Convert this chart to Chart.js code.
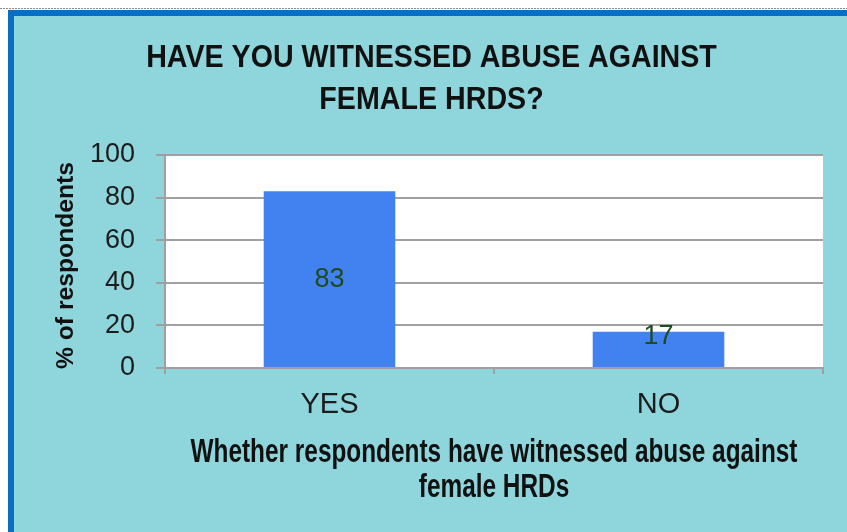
<!DOCTYPE html>
<html>
<head>
<meta charset="utf-8">
<script src="https://cdn.jsdelivr.net/npm/chart.js@4/dist/chart.umd.min.js"></script>
<style>
  html, body { margin: 0; padding: 0; background: #ffffff; }
  #wrap { width: 847px; height: 532px; }
</style>
</head>
<body>
<div id="wrap"><canvas id="c" width="847" height="532"></canvas></div>
<script>
// Survey answers and their share of respondents (%)
const categories = ['YES', 'NO'];
const percentRespondents = [83, 17];
const yTicks = { min: 0, max: 100, step: 20 };
const chartTitle = ['HAVE YOU WITNESSED ABUSE AGAINST', 'FEMALE HRDS?'];
const xAxisTitle = ['Whether respondents have witnessed abuse against', 'female HRDs'];
const yAxisTitle = '% of respondents';

const SANS = "'Liberation Sans', Arial, sans-serif";
const GRID = '#a0a0a0';
const TEXT = '#1c1c1c';
const HEAD = '#111111';

// Panel background: cyan card with a blue frame and a dotted rule above it
const panelPlugin = {
  id: 'panel',
  beforeDraw(chart) {
    const { ctx, width, height, chartArea } = chart;
    ctx.save();
    ctx.fillStyle = '#ffffff';
    ctx.fillRect(0, 0, width, height);
    ctx.strokeStyle = '#8a8a8a';
    ctx.lineWidth = 1;
    ctx.setLineDash([2, 1]);
    ctx.beginPath();
    ctx.moveTo(0, 8.5);
    ctx.lineTo(width, 8.5);
    ctx.stroke();
    ctx.setLineDash([]);
    ctx.fillStyle = '#0a6fc2';
    ctx.fillRect(8, 10, width - 8, height - 10);
    ctx.fillStyle = '#8fd6dc';
    ctx.fillRect(14, 16, width - 14, height - 16);
    ctx.fillStyle = '#ffffff';
    ctx.fillRect(chartArea.left, chartArea.top, chartArea.width, chartArea.height);
    ctx.restore();
  }
};

// Draws one line of text, optionally condensed horizontally
function condensedText(ctx, text, x, y, squeeze) {
  ctx.save();
  ctx.translate(x, y);
  ctx.scale(squeeze, 1);
  ctx.fillText(text, 0, 0);
  ctx.restore();
}

// Chart heading and axis titles in the narrow bold style of the panel
const headingsPlugin = {
  id: 'headings',
  afterDraw(chart) {
    const { ctx, width, chartArea } = chart;
    ctx.save();
    ctx.fillStyle = HEAD;
    ctx.textAlign = 'center';
    ctx.textBaseline = 'alphabetic';

    // chart heading, centred on the cyan card
    ctx.font = 'bold 32px ' + SANS;
    const headX = (16 + width) / 2;
    chartTitle.forEach((line, i) => condensedText(ctx, line, headX, 67 + i * 42, 0.895));

    // category axis title, centred under the plot
    ctx.font = 'bold 34px ' + SANS;
    const midX = (chartArea.left + chartArea.right) / 2;
    xAxisTitle.forEach((line, i) => condensedText(ctx, line, midX, chartArea.bottom + 94 + i * 35, 0.717));

    // value axis title, rotated
    ctx.font = 'bold 24.7px ' + SANS;
    ctx.textBaseline = 'middle';
    ctx.translate(66, (chartArea.top + chartArea.bottom) / 2 + 4);
    ctx.rotate(-Math.PI / 2);
    ctx.fillText(yAxisTitle, 0, 0);
    ctx.restore();
  }
};

// Value labels drawn inside each bar, kept clear of the category axis
const valueLabelPlugin = {
  id: 'valueLabels',
  afterDatasetsDraw(chart) {
    const { ctx } = chart;
    const meta = chart.getDatasetMeta(0);
    const values = chart.data.datasets[0].data;
    ctx.save();
    ctx.font = '27px ' + SANS;
    ctx.fillStyle = '#1f4a22';
    ctx.textAlign = 'center';
    ctx.textBaseline = 'middle';
    meta.data.forEach((bar, i) => {
      const mid = (bar.y + bar.base) / 2;
      const y = Math.min(mid, bar.base - 30);
      ctx.fillText(String(values[i]), bar.x, y);
    });
    ctx.restore();
  }
};

new Chart(document.getElementById('c'), {
  type: 'bar',
  data: {
    labels: categories,
    datasets: [{
      data: percentRespondents,
      backgroundColor: '#4281f0',
      borderWidth: 0,
      barPercentage: 0.4,
      categoryPercentage: 1.0
    }]
  },
  options: {
    responsive: false,
    animation: false,
    devicePixelRatio: 1,
    layout: { padding: { left: 16, right: 24, top: 155, bottom: 0 } },
    plugins: {
      legend: { display: false },
      tooltip: { enabled: false },
      title: { display: false }
    },
    scales: {
      x: {
        offset: true,
        grid: {
          offset: true,
          drawOnChartArea: false,
          drawTicks: true,
          tickLength: 6,
          color: GRID,
          lineWidth: 2
        },
        border: { display: true, color: GRID, width: 2 },
        ticks: { color: TEXT, font: { family: SANS, size: 29 }, padding: 14 },
        afterFit(scale) { scale.height = 164; }
      },
      y: {
        min: yTicks.min,
        max: yTicks.max,
        ticks: { stepSize: yTicks.step, color: TEXT, font: { family: SANS, size: 27 }, padding: 21 },
        grid: { color: GRID, lineWidth: 2, tickLength: 9, drawTicks: true },
        border: { display: true, color: GRID, width: 2 },
        afterFit(scale) { scale.width = 149; }
      }
    }
  },
  plugins: [panelPlugin, valueLabelPlugin, headingsPlugin]
});
</script>
</body>
</html>
